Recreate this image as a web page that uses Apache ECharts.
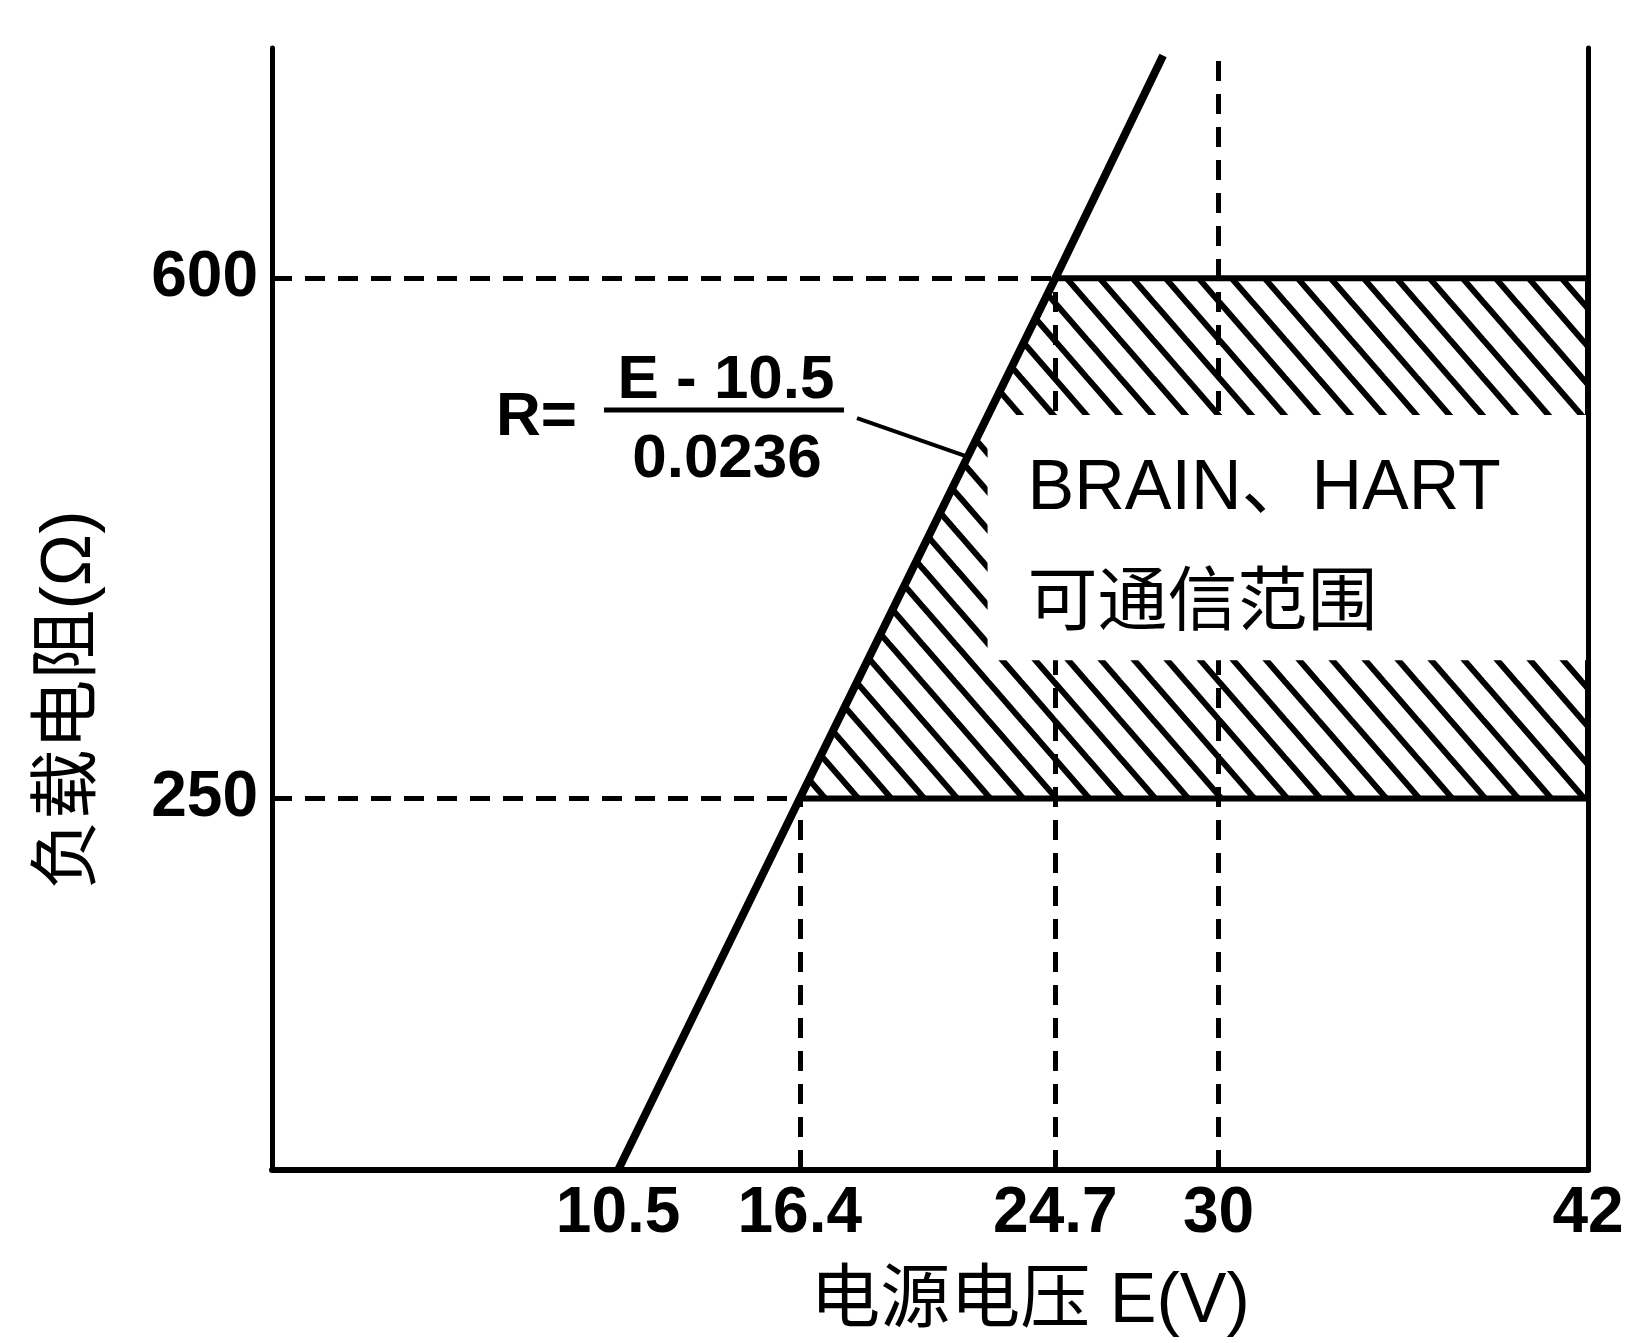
<!DOCTYPE html>
<html>
<head>
<meta charset="utf-8">
<script src="https://cdn.jsdelivr.net/npm/echarts@6/dist/echarts.min.js"></script>
<style>
html,body{margin:0;padding:0;background:#fff;}
#chart{width:1638px;height:1343px;}
</style>
</head>
<body>
<div id="chart"></div>
<script>
// ---- data ----
const xTickValues = [10.5, 16.4, 24.7, 30, 42];
const yTickValues = [250, 600];
const curveE = [10.5, 16.4, 24.7, 28.2];
const curveR = [0, 250, 600, 750];
const zoneE = [16.4, 24.7, 42, 42];
const zoneR = [250, 600, 600, 250];
const boxE = [22.5, 42];
const boxR = [343, 508];
const boxTextR = [458, 380];
const boxLines = ['BRAIN、HART', '可通信范围'];
const xMin = -0.74, xMax = 42, yMin = 0, yMax = 755;
const guideStart = [[xMin, 600], [xMin, 250], [16.4, 0], [24.7, 0], [30, 0]];
const guideEnd = [[24.7, 600], [16.4, 250], [16.4, 250], [24.7, 600], [30, 755]];
const leaderStart = [18.26, 506];
const leaderEnd = [21.84, 480];

const FONT = '"Liberation Sans", "Noto Sans CJK SC", sans-serif';

function makeHatch() {
  const w = 33, h = 38;
  const c = document.createElement('canvas');
  c.width = w; c.height = h;
  const ctx = c.getContext('2d');
  ctx.fillStyle = '#fff';
  ctx.fillRect(0, 0, w, h);
  ctx.strokeStyle = '#000';
  ctx.lineWidth = 6;
  for (const k of [-1, 0, 1]) {
    ctx.beginPath();
    ctx.moveTo(k * w - w, -h);
    ctx.lineTo(k * w + 2 * w, 2 * h);
    ctx.stroke();
  }
  return c;
}
const hatch = makeHatch();

const chart = echarts.init(document.getElementById('chart'), null, {renderer: 'canvas'});

const option = {
  backgroundColor: '#fff',
  animation: false,
  grid: {left: 272, right: 50, top: 48, bottom: 173},
  xAxis: {
    type: 'value', min: xMin, max: xMax, z: 10,
    name: '电源电压 E(V)', nameLocation: 'middle', nameGap: 98,
    nameTextStyle: {fontFamily: FONT, fontSize: 70, color: '#000', padding: [0, 0, 0, 200]},
    axisLine: {show: true, onZero: false, lineStyle: {color: '#000', width: 6}},
    axisTick: {show: false},
    splitLine: {show: false},
    axisLabel: {customValues: xTickValues, fontFamily: FONT, fontWeight: 'bold', fontSize: 64, color: '#000', margin: 12,
      formatter: v => String(v)}
  },
  yAxis: [{
    type: 'value', min: yMin, max: yMax, z: 10,
    name: '负载电阻(Ω)', nameLocation: 'middle', nameGap: 166, nameRotate: 90,
    nameTextStyle: {fontFamily: FONT, fontSize: 70, color: '#000', padding: [0, 182, 0, 0]},
    axisLine: {show: true, onZero: false, lineStyle: {color: '#000', width: 5}},
    axisTick: {show: false},
    splitLine: {show: false},
    axisLabel: {customValues: yTickValues, fontFamily: FONT, fontWeight: 'bold', fontSize: 64, color: '#000', margin: 14,
      formatter: v => String(v)}
  }, {
    type: 'value', min: yMin, max: yMax, position: 'right', z: 10,
    axisLine: {show: true, onZero: false, lineStyle: {color: '#000', width: 5}},
    axisTick: {show: false}, axisLabel: {show: false}, splitLine: {show: false}
  }],
  series: [
    {
      name: 'zone', type: 'custom', z: 1, silent: true,
      data: [[zoneE[0], zoneR[0]]],
      renderItem: function (params, api) {
        const pts = zoneE.map((e, i) => api.coord([e, zoneR[i]]));
        return {
          type: 'polygon',
          shape: {points: pts},
          style: {fill: {image: hatch, repeat: 'repeat'}, stroke: '#000', lineWidth: 6, lineJoin: 'miter'}
        };
      }
    },
    {
      name: 'guides', type: 'lines', coordinateSystem: 'cartesian2d', z: 2, silent: true,
      data: guideStart.map((s, i) => ({coords: [s, guideEnd[i]]})),
      lineStyle: {color: '#000', width: 5, type: [20, 13], opacity: 1}
    },
    {
      name: 'box', type: 'custom', z: 3, silent: true,
      data: [[boxE[0], boxR[1]]],
      renderItem: function (params, api) {
        const tl = api.coord([boxE[0], boxR[1]]);
        const br = api.coord([boxE[1], boxR[0]]);
        const children = [{
          type: 'rect',
          shape: {x: tl[0], y: tl[1], width: br[0] - tl[0], height: br[1] - tl[1]},
          style: {fill: '#fff'}
        }];
        boxLines.forEach((t, i) => {
          const p = api.coord([boxE[0], boxTextR[i]]);
          children.push({
            type: 'text',
            style: {text: t, x: tl[0] + 40, y: p[1], fill: '#000', font: '70px ' + FONT,
              textAlign: 'left', textVerticalAlign: 'middle'}
          });
        });
        return {type: 'group', children: children};
      }
    },
    {
      name: 'R', type: 'line', z: 6, silent: true,
      data: curveE.map((e, i) => [e, curveR[i]]),
      showSymbol: false, symbol: 'none',
      lineStyle: {color: '#000', width: 8}
    },
    {
      name: 'leader', type: 'lines', coordinateSystem: 'cartesian2d', z: 6, silent: true,
      data: [{coords: [leaderStart, leaderEnd]}],
      lineStyle: {color: '#000', width: 4, type: 'solid', opacity: 1}
    }
  ],
  graphic: [
    {type: 'text', left: 496, top: 423 - 36, z: 20,
      style: {text: 'R=', font: 'bold 62px ' + FONT, fill: '#000'}},
    {type: 'text', x: 726, y: 381, z: 20,
      style: {text: 'E - 10.5', font: 'bold 62px ' + FONT, fill: '#000', textAlign: 'center', textVerticalAlign: 'middle'}},
    {type: 'line', z: 20, shape: {x1: 604, y1: 410, x2: 844, y2: 410}, style: {stroke: '#000', lineWidth: 5}},
    {type: 'text', x: 727, y: 460, z: 20,
      style: {text: '0.0236', font: 'bold 62px ' + FONT, fill: '#000', textAlign: 'center', textVerticalAlign: 'middle'}}
  ]
};
chart.setOption(option);
</script>
</body>
</html>
